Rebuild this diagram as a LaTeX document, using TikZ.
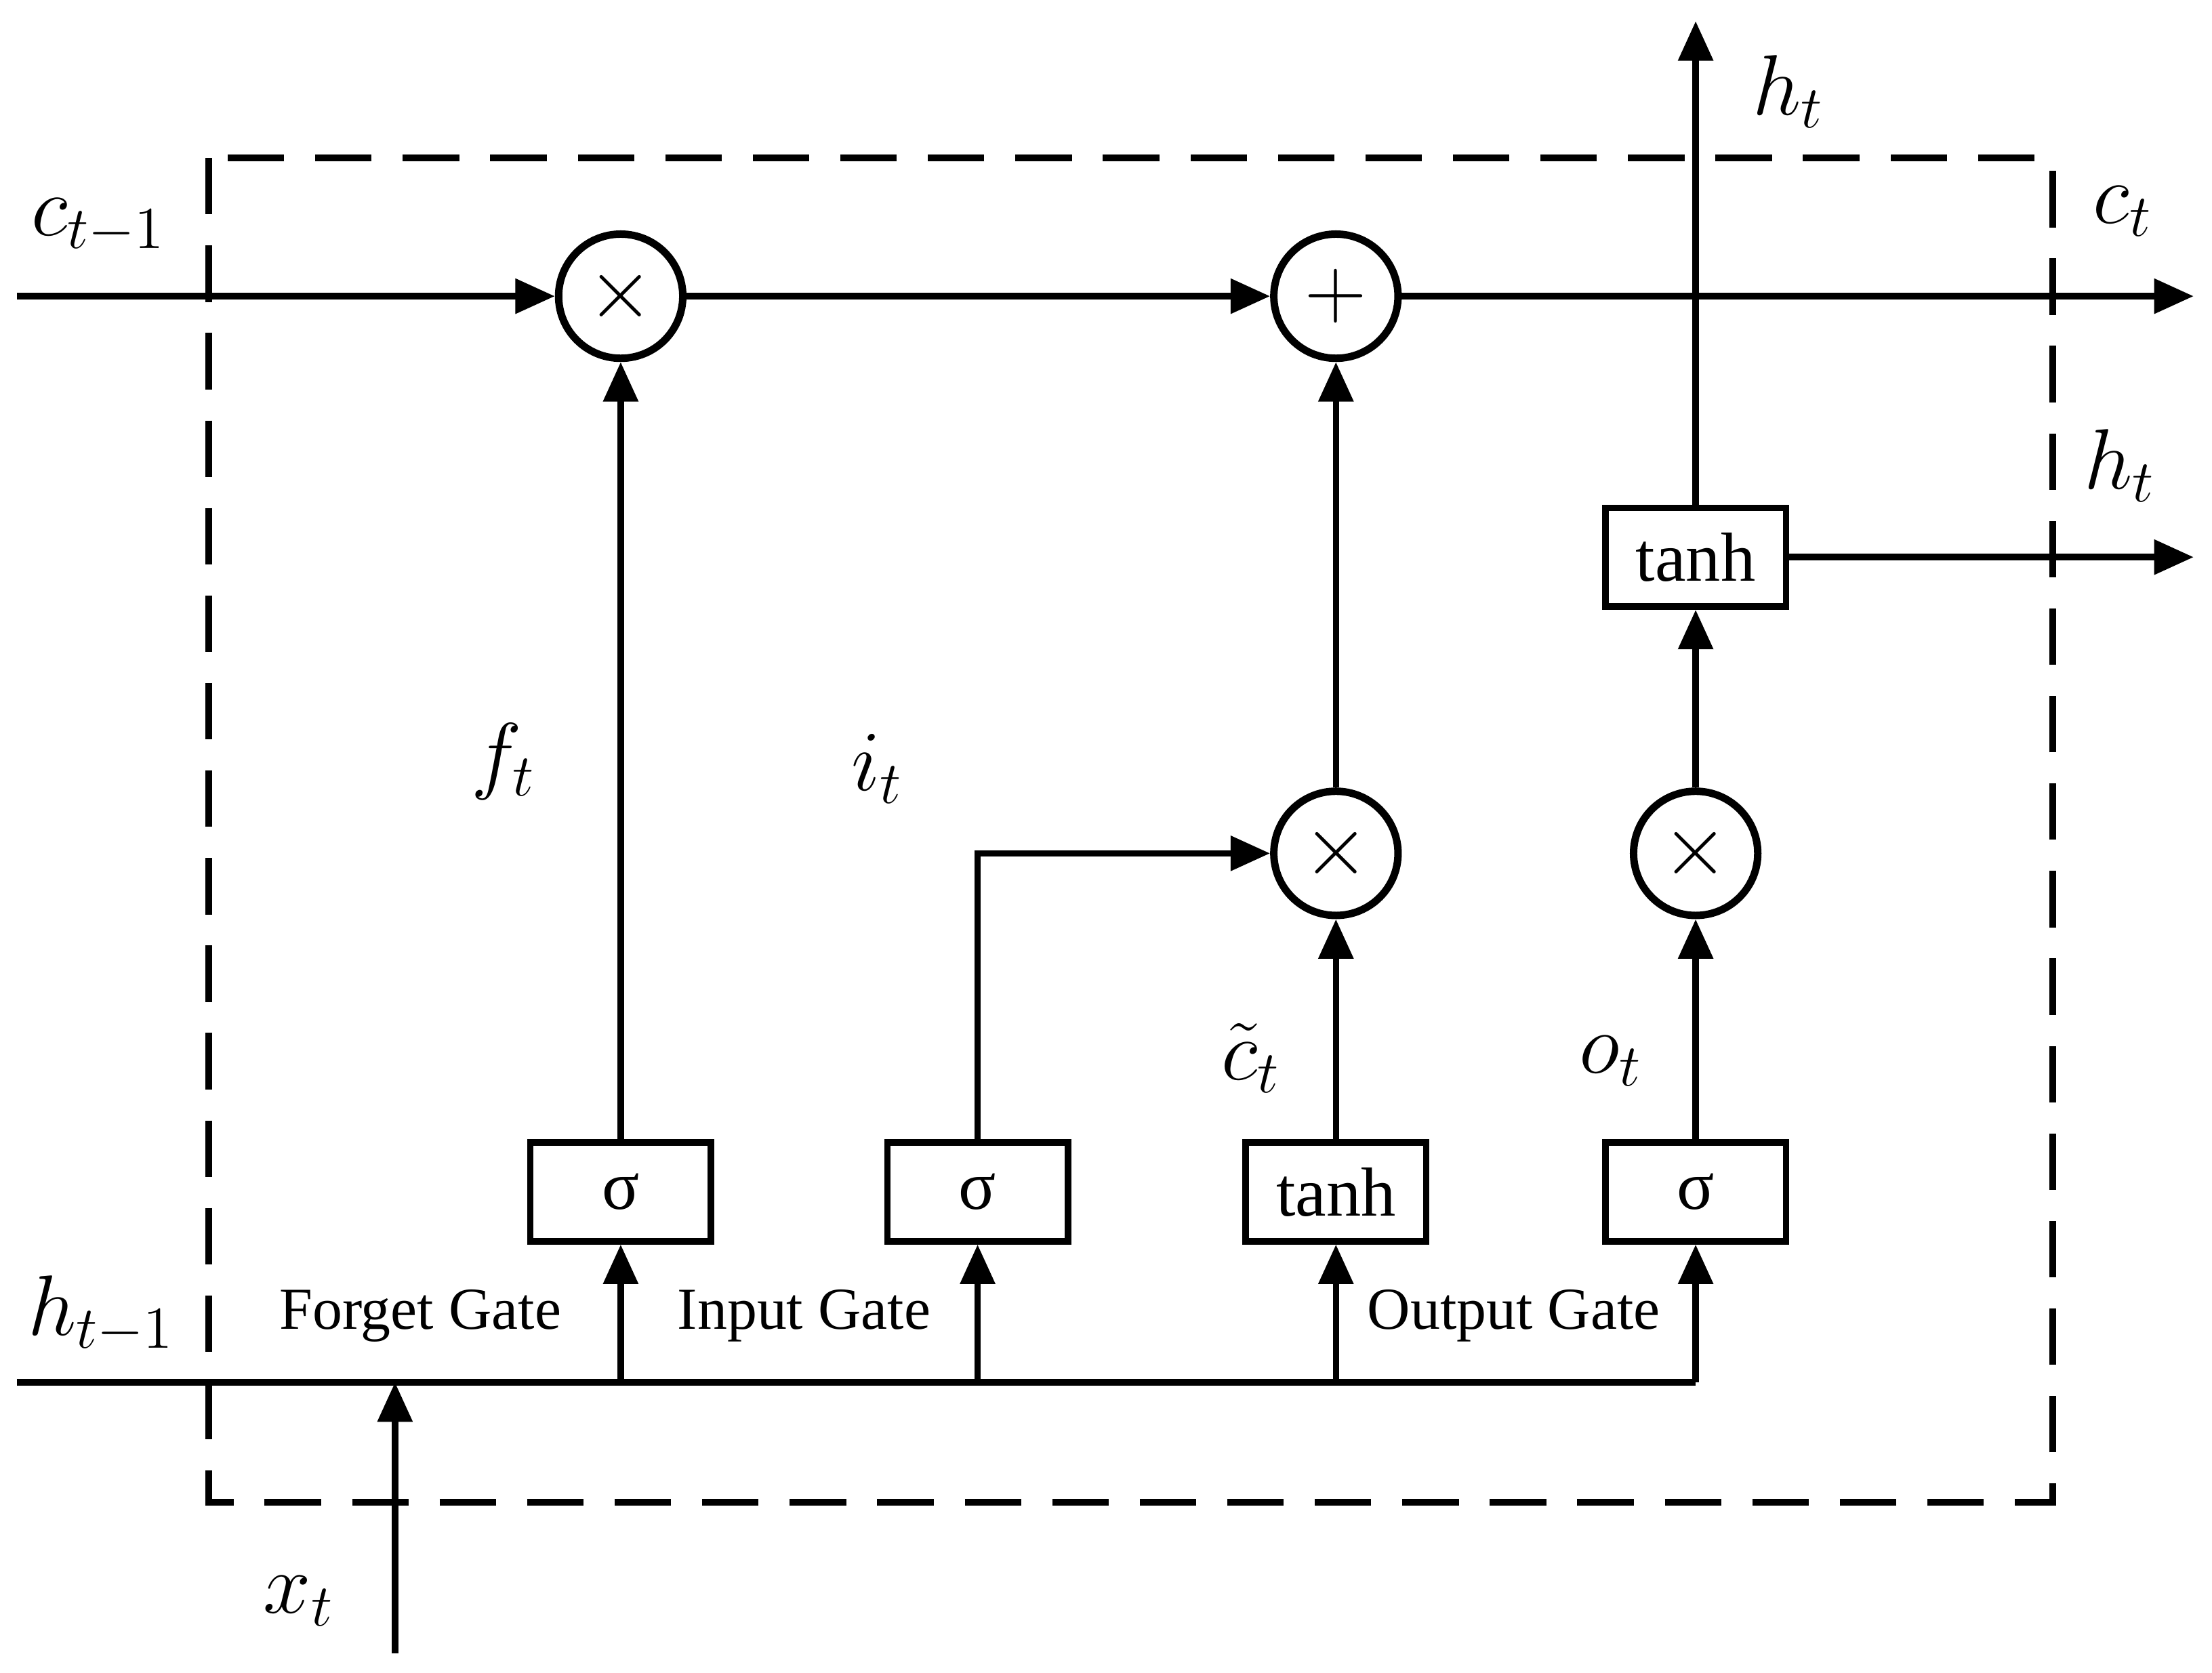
\documentclass[tikz,border=0pt]{standalone}
\usepackage{fontspec}
\setmainfont{Liberation Serif}
\usetikzlibrary{arrows.meta}
\begin{document}
\begin{tikzpicture}[x=0.01cm,y=-0.01cm,
  ln/.style={line width=1.3pt},
  ar/.style={ln,-{Triangle[length=0.28cm,width=0.24cm]}},
  op/.style={circle,draw,line width=1.5pt,minimum size=0.88cm,inner sep=0pt,font=\fontsize{16}{18}\selectfont},
  bx/.style={rectangle,draw,line width=1.3pt,minimum width=1.28cm,minimum height=0.7cm,inner sep=0pt,font=\fontsize{14}{16}\selectfont},
  lab/.style={font=\fontsize{18}{20}\selectfont},
  gate/.style={font=\fontsize{12}{14}\selectfont}]
\useasboundingbox (0,0) rectangle (1568,1186);
\draw[line width=1.3pt,dash pattern=on 0.4cm off 0.22cm] (148,112) rectangle (1455,1065);
\coordinate (cin) at (12,210);
\coordinate (cout) at (1555,210);
\coordinate (hin) at (12,980);
\coordinate (hend) at (1202,980);
\coordinate (xin) at (280,1172);
\coordinate (xj) at (280,980);
\coordinate (htop) at (1202,15);
\coordinate (hout) at (1555,395);
\coordinate (ij) at (693,605);
\node[op] (m1) at (440,210) {$\times$};
\node[op] (p1) at (947,210) {$+$};
\node[op] (m2) at (947,605) {$\times$};
\node[op] (m3) at (1202,605) {$\times$};
\node[bx] (sf) at (440,845) {σ};
\node[bx] (si) at (693,845) {σ};
\node[bx] (tc) at (947,845) {tanh};
\node[bx] (so) at (1202,845) {σ};
\node[bx] (th) at (1202,395) {tanh};
\draw[ar] (cin) -- (m1);
\draw[ar] (m1) -- (p1);
\draw[ar] (p1) -- (cout);
\draw[ln] (hin) -- (hend);
\draw[ar] (xin) -- (xj);
\foreach \b in {sf,si,tc,so} \draw[ar] (\b.south |- hin) -- (\b.south);
\draw[ar] (sf) -- (m1);
\draw[ar] (si.north) -- (ij) -- (m2.west);
\draw[ar] (tc) -- (m2);
\draw[ar] (m2) -- (p1);
\draw[ar] (so) -- (m3);
\draw[ar] (m3) -- (th);
\draw[ar] (th) -- (htop);
\draw[ar] (th) -- (hout);
\node[lab] (l1) at (70,160) {$c_{t-1}$};
\node[lab] (l2) at (1505,150) {$c_t$};
\node[lab] (l3) at (1268,65) {$h_t$};
\node[lab] (l4) at (1503,330) {$h_t$};
\node[lab] (l5) at (72,932) {$h_{t-1}$};
\node[lab] (l6) at (212,1135) {$x_t$};
\node[lab] (l7) at (357,540) {$f_t$};
\node[lab] (l8) at (622,545) {$i_t$};
\node[lab] (l9) at (887,750) {$\tilde{c}_t$};
\node[lab] (l10) at (1142,752) {$o_t$};
\node[gate] (g1) at (298,933) {Forget Gate};
\node[gate] (g2) at (570,933) {Input Gate};
\node[gate] (g3) at (1073,933) {Output Gate};
\end{tikzpicture}
\end{document}
